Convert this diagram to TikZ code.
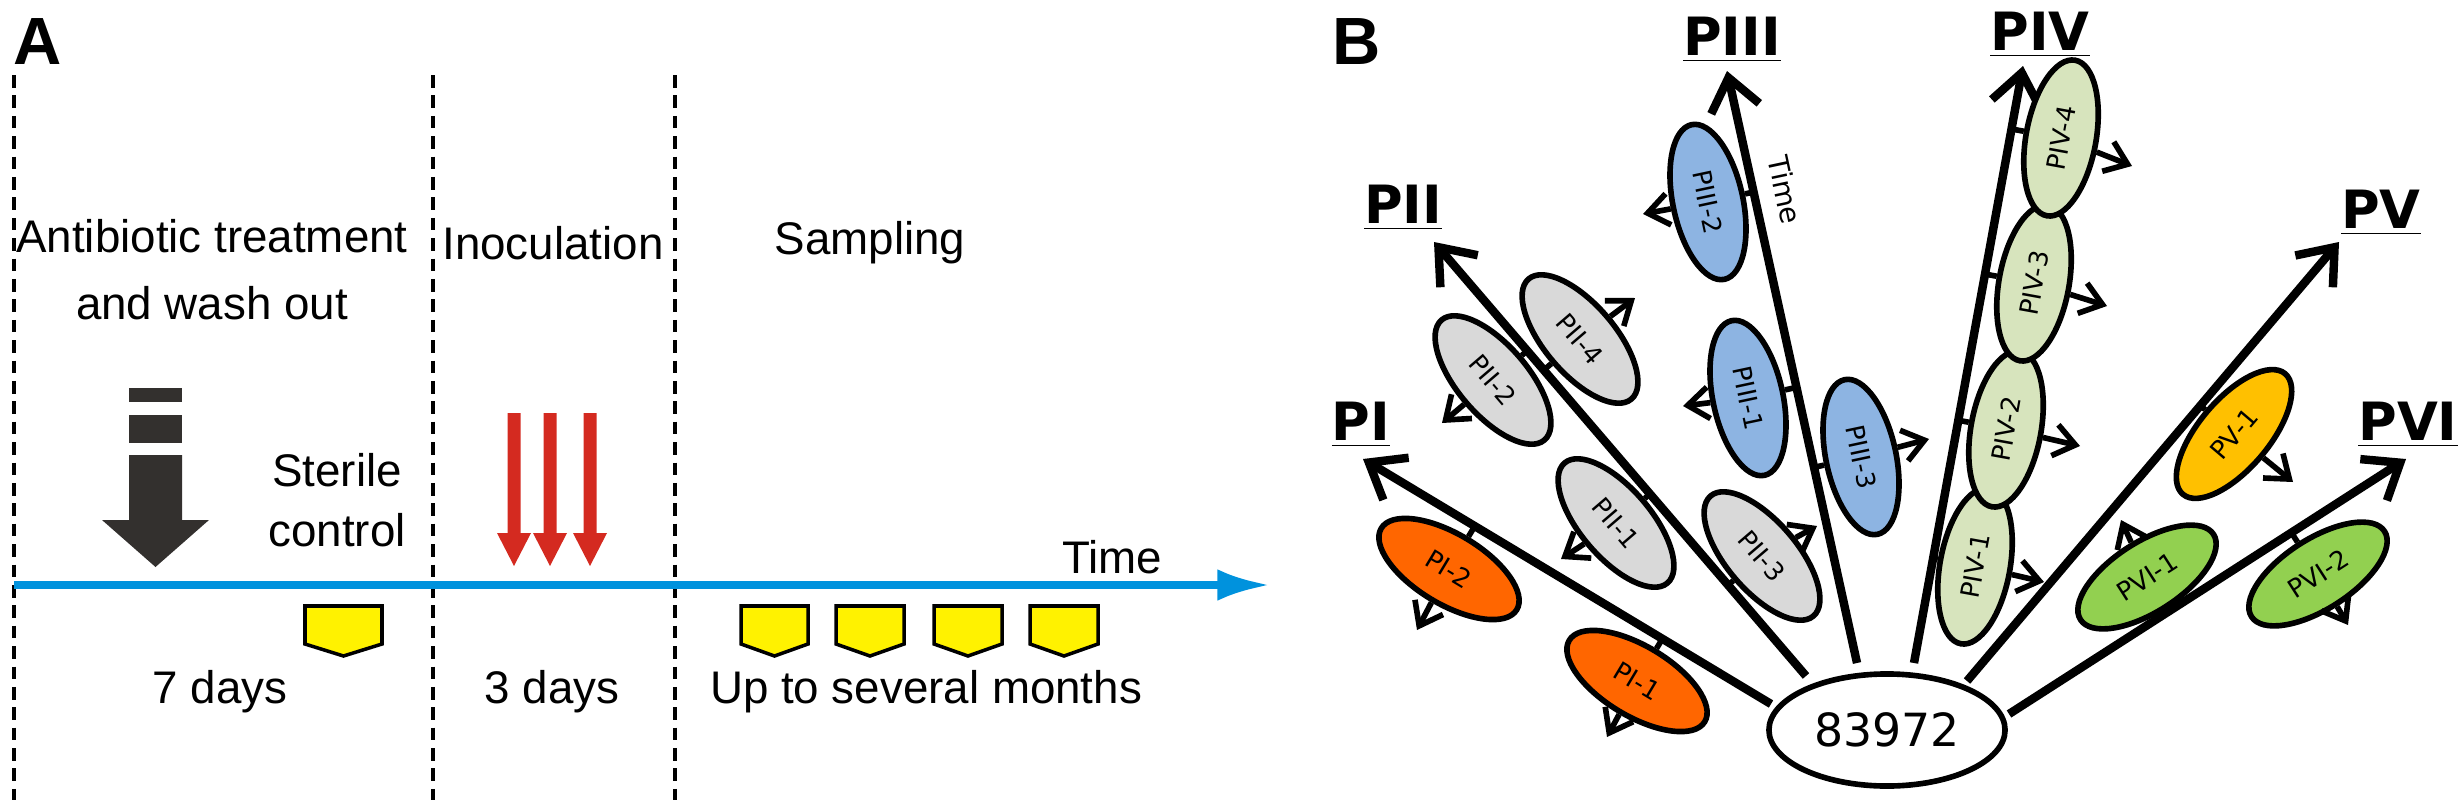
\documentclass[tikz,border=0pt]{standalone}
\usepackage{fontspec}
\setmainfont{Liberation Sans}
\newfontfamily\dv{DejaVu Sans}
\usetikzlibrary{shapes.geometric,arrows.meta,calc}
\definecolor{tblue}{RGB}{0,146,221}
\definecolor{ared}{RGB}{212,42,32}
\definecolor{dgray}{RGB}{51,48,46}
\definecolor{cPI}{RGB}{255,102,0}
\definecolor{cPII}{RGB}{217,217,217}
\definecolor{cPIII}{RGB}{141,180,226}
\definecolor{cPIV}{RGB}{215,228,189}
\definecolor{cPV}{RGB}{255,192,0}
\definecolor{cPVI}{RGB}{146,208,80}
\tikzset{
 vdash/.style={line width=1.4pt,dash pattern=on 3.6pt off 2.2pt},
 txt/.style={font=\fontsize{13}{15}\selectfont,align=center,inner sep=0},
 samp/.style={fill=yellow,draw=black,line width=1pt},
 big/.style={line width=2.4pt,-{Straight Barb[length=9pt,width=14pt,line width=2.4pt]}},
 lab/.style={font=\dv\bfseries\fontsize{15}{17}\selectfont,inner sep=0},
 el/.style={ellipse,draw=black,line width=1.6pt,minimum width=1.58cm,minimum height=0.70cm,inner sep=0,font=\dv\fontsize{7.3}{8}\selectfont},
 tick/.style={line width=1.6pt},
 small/.style={line width=1.6pt,-{Straight Barb[length=6pt,width=9pt,line width=1.6pt]}},
}
\begin{document}
\begin{tikzpicture}[x=0.01cm,y=-0.01cm]
\useasboundingbox (0,0) rectangle (2460,800);
% ---------- Panel A
\node[font=\bfseries\fontsize{19}{20}\selectfont,inner sep=0] (A) at (38,42) {A};
\coordinate (d1t) at (14,75); \coordinate (d1b) at (14,800);
\coordinate (d2t) at (433,75); \coordinate (d2b) at (433,800);
\coordinate (d3t) at (675,75); \coordinate (d3b) at (675,800);
\draw[vdash] (d1t) -- (d1b); \draw[vdash] (d2t) -- (d2b); \draw[vdash] (d3t) -- (d3b);
\coordinate (bl0) at (14,585); \coordinate (bl1) at (1270,585);
\draw[tblue,line width=2.2pt,-{Latex[length=15pt,width=9pt]}] (bl0) -- (bl1);
\node[txt] (time) at (1112,557) {Time};
\node[txt] (h1) at (212,270) {Antibiotic treatment\\[4pt]and wash out};
\node[txt] (h2) at (553,243) {Inoculation};
\node[txt] (h3) at (870,243) {Sampling};
\node[txt] (sc) at (337,500) {Sterile\\[2pt]control};
\node[txt] (t1) at (220,692) {7 days};
\node[txt] (t2) at (552,692) {3 days};
\node[txt] (t3) at (926,692) {Up to several months};
% black arrow
\fill[dgray] (129,388) rectangle (182,402);
\fill[dgray] (129,415) rectangle (182,443);
\fill[dgray] (129,455) -- (182,455) -- (182,520) -- (209,520) -- (155.5,567) -- (102,520) -- (129,520) -- cycle;
% red arrows
\foreach \x in {514,550,590}{
 \fill[ared] (\x-6.5,413) -- (\x+6.5,413) -- (\x+6.5,533) -- (\x+17,533) -- (\x,566) -- (\x-17,533) -- (\x-6.5,533) -- cycle;}
% sampling pentagons
\foreach \a/\b in {305/382,741/808,836/904,934/1002,1030/1098}{
 \draw[samp] (\a,606) -- (\b,606) -- (\b,644) -- ({(\a+\b)/2},656) -- (\a,644) -- cycle;}
% ---------- Panel B
\node[font=\bfseries\fontsize{19}{20}\selectfont,inner sep=0] (B) at (1357,42) {B};
\node[ellipse,draw=black,line width=1.6pt,minimum width=2.36cm,minimum height=1.12cm,inner sep=0,font=\dv\fontsize{13}{15}\selectfont] (c) at (1887,730) {83972};
\coordinate (sPI) at (1771,704);  \coordinate (tPI) at (1363,459);
\coordinate (sPII) at (1806,676); \coordinate (tPII) at (1434,242);
\coordinate (sPIII) at (1857,663);\coordinate (tPIII) at (1727,71);
\coordinate (sPIV) at (1914,663); \coordinate (tPIV) at (2023,66);
\coordinate (sPV) at (1967,681);  \coordinate (tPV) at (2339,242);
\coordinate (sPVI) at (2009,714); \coordinate (tPVI) at (2406,459);
\foreach \p in {PI,PII,PIII,PIV,PV,PVI}{\draw[big] (s\p) -- (t\p);}
\node[lab] (lPI) at (1361,425) {\underline{PI}};
\node[lab] (lPII) at (1403,208) {\underline{PII}};
\node[lab] (lPIII) at (1732,40) {\underline{PIII}};
\node[lab] (lPIV) at (2040,35) {\underline{PIV}};
\node[lab] (lPV) at (2381,213) {\underline{PV}};
\node[lab] (lPVI) at (2408,425) {\underline{PVI}};
\node[font=\dv\fontsize{8}{9}\selectfont,rotate=-78,inner sep=0] (tm) at (1785,190) {Time};
\foreach \n/\x/\y/\r/\c/\t/\l/\ax/\ay in {
 PI1/1637/681/-31/cPI/PI-1/PI/1607/737,
 PI2/1449/569/-31/cPI/PI-2/PI/1417/630,
 PII1/1616/523/-49.4/cPII/PII-1/PII/1561/559,
 PII2/1493/380/-49.4/cPII/PII-2/PII/1442/423,
 PII3/1762/556/-49.4/cPII/PII-3/PII/1817/526,
 PII4/1580/339/-49.4/cPII/PII-4/PII/1635/298,
 PIII1/1748/398/-78/cPIII/PIII-1/PIII/1683/406,
 PIII2/1708/202/-78/cPIII/PIII-2/PIII/1643/214,
 PIII3/1861/457/-78/cPIII/PIII-3/PIII/1929/439,
 PIV1/1975/566/79.7/cPIV/PIV-1/PIV/2044/582,
 PIV2/2006/429/79.7/cPIV/PIV-2/PIV/2080/446,
 PIV3/2034/283/79.7/cPIV/PIV-3/PIV/2107/306,
 PIV4/2061/138/79.7/cPIV/PIV-4/PIV/2132/166,
 PV1/2234/434/49.7/cPV/PV-1/PV/2293/482,
 PVI1/2147/577/32.7/cPVI/PVI-1/PVI/2121/520,
 PVI2/2318/574/32.7/cPVI/PVI-2/PVI/2348/625}{
 \node[el,fill=\c,rotate=\r] (\n) at (\x,\y) {\t};
 \coordinate (a\n) at (\ax,\ay);
 \draw[tick] (\n) -- ($(s\l)!(\n.center)!(t\l)$);
 \draw[small] (\n) -- (a\n);
}
\end{tikzpicture}
\end{document}
